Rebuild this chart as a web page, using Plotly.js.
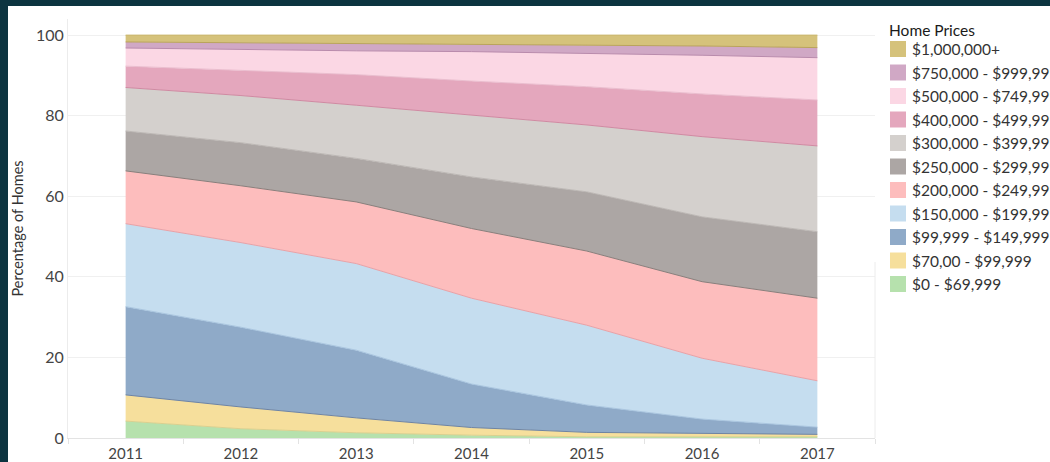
<!DOCTYPE html>
<html>
<head>
<meta charset="utf-8">
<script src="https://cdn.plot.ly/plotly-3.0.1.min.js"></script>
<style>
  html, body { margin: 0; padding: 0; background: #0c3440; width: 1050px; height: 462px; overflow: hidden; }
  #chart { position: absolute; left: 8px; top: 6px; width: 1042px; height: 456px; background: #ffffff; }
</style>
</head>
<body>
<div id="chart"></div>
<script>
// ---- Data ----
const years = [2011, 2012, 2013, 2014, 2015, 2016, 2017];
const yTicks = [0, 20, 40, 60, 80, 100];

// bottom-to-top series (percentage of homes)
const p0to69k      = [4.2, 2.3, 1.3, 0.7, 0.3, 0.3, 0.3];
const p70to99k     = [6.5, 5.4, 3.7, 1.9, 1.1, 0.8, 0.6];
const p100to149k   = [21.9, 19.8, 16.8, 10.8, 6.8, 3.6, 1.8];
const p150to199k   = [20.6, 21.0, 21.5, 21.3, 19.8, 15.1, 11.5];
const p200to249k   = [13.1, 14.1, 15.3, 17.3, 18.4, 19.0, 20.5];
const p250to299k   = [9.9, 10.7, 10.8, 12.8, 14.7, 16.1, 16.5];
const p300to399k   = [10.8, 11.7, 13.2, 15.3, 16.6, 19.9, 21.3];
const p400to499k   = [5.3, 6.3, 7.6, 8.5, 9.5, 10.6, 11.4];
const p500to749k   = [4.5, 5.1, 5.9, 7.3, 8.3, 9.6, 10.5];
const p750to999k   = [1.5, 1.7, 1.7, 1.8, 2.0, 2.3, 2.5];
const p1mPlus      = [1.7, 1.9, 2.2, 2.3, 2.5, 2.7, 3.1];

const categories = [
  "$0 - $69,999",
  "$70,00 - $99,999",
  "$99,999 - $149,999",
  "$150,000 - $199,999",
  "$200,000 - $249,999",
  "$250,000 - $299,999",
  "$300,000 - $399,999",
  "$400,000 - $499,999",
  "$500,000 - $749,999",
  "$750,000 - $999,999",
  "$1,000,000+"
];
const seriesValues = [p0to69k, p70to99k, p100to149k, p150to199k, p200to249k,
  p250to299k, p300to399k, p400to499k, p500to749k, p750to999k, p1mPlus];

// ---- Styles ----
const fills = ["#b6e1ad", "#f6df9c", "#8faac8", "#c5ddef", "#fdbdbd", "#aca6a4",
  "#d4d0cd", "#e4a7bd", "#fbd7e4", "#d0a8c5", "#d5c27b"];
const lines = ["#d9d08f", "#6f84a2", "#a9c5df", "#e6a2a8", "#8a7e7b", "#bcb7b4",
  "#cf8aa2", "#eabdce", "#b98bac", "#b9a35c", "#c9b66c"];

const FONT = "Lato, 'Open Sans', sans-serif";

const traces = seriesValues.map((vals, i) => ({
  type: "scatter",
  mode: "lines",
  x: years,
  y: vals,
  name: categories[i],
  stackgroup: "one",
  fillcolor: fills[i],
  line: { color: lines[i], width: 1, shape: "linear" },
  showlegend: false,
  hoverinfo: "skip"
}));

// ---- Layout geometry (pixels within the chart div) ----
const W = 1042, Hh = 456;
const M = { l: 60, r: 175, t: 13, b: 24 };
const PW = W - M.l - M.r, PH = Hh - M.t - M.b;
const px = (x) => (x - M.l) / PW;
const py = (y) => 1 - (y - M.t) / PH;

// Custom legend (square swatches), top-to-bottom = reverse stacking order
const shapes = [];
const annotations = [];
annotations.push({
  xref: "paper", yref: "paper", x: px(879), y: py(24), xanchor: "left", yanchor: "middle",
  text: "Home Prices", showarrow: false, font: { family: FONT, size: 15.5, color: "#1a1a1a" }
});
const legendOrder = categories.map((c, i) => i).reverse();
legendOrder.forEach((idx, k) => {
  const cy = 43 + k * 23.5;
  shapes.push({
    type: "rect", xref: "paper", yref: "paper",
    x0: px(882), x1: px(898), y0: py(cy - 8), y1: py(cy + 8),
    fillcolor: fills[idx], line: { width: 0 }
  });
  annotations.push({
    xref: "paper", yref: "paper", x: px(902), y: py(cy), xanchor: "left", yanchor: "middle",
    text: categories[idx], showarrow: false, font: { family: FONT, size: 15.5, color: "#333333" }
  });
});
// faint right-side pane boundary (lower part)
shapes.push({
  type: "line", xref: "paper", yref: "paper", x0: 1, x1: 1, y0: 0, y1: py(256),
  line: { color: "#ececec", width: 1 }
});

const layout = {
  width: W, height: Hh,
  margin: M,
  paper_bgcolor: "#ffffff",
  plot_bgcolor: "#ffffff",
  font: { family: FONT, color: "#555555" },
  showlegend: false,
  xaxis: {
    range: [2010.5, 2017.5],
    tickmode: "array",
    tickvals: years,
    ticktext: years.map(String),
    ticks: "",
    showgrid: false,
    zeroline: false,
    showline: true,
    linecolor: "#e3e3e3",
    tickfont: { family: FONT, size: 15, color: "#444444" },
    ticklabelstandoff: 2,
    minor: {
      tickmode: "array",
      tickvals: [2010.5, 2011.5, 2012.5, 2013.5, 2014.5, 2015.5, 2016.5, 2017.5],
      ticks: "outside", ticklen: 5, tickcolor: "#e3e3e3", showgrid: false
    },
    fixedrange: true
  },
  yaxis: {
    range: [0, 104],
    tickmode: "array",
    tickvals: yTicks,
    ticktext: yTicks.map(String),
    ticks: "",
    showgrid: true,
    gridcolor: "#f0f0f0",
    zeroline: false,
    showline: true,
    linecolor: "#ececec",
    tickfont: { family: FONT, size: 16, color: "#444444" },
    title: { text: "Percentage of Homes", font: { family: FONT, size: 14.5, color: "#333333" }, standoff: 8 },
    fixedrange: true
  },
  shapes: shapes,
  annotations: annotations
};

Plotly.newPlot("chart", traces, layout, { staticPlot: true, displayModeBar: false });
</script>
</body>
</html>
